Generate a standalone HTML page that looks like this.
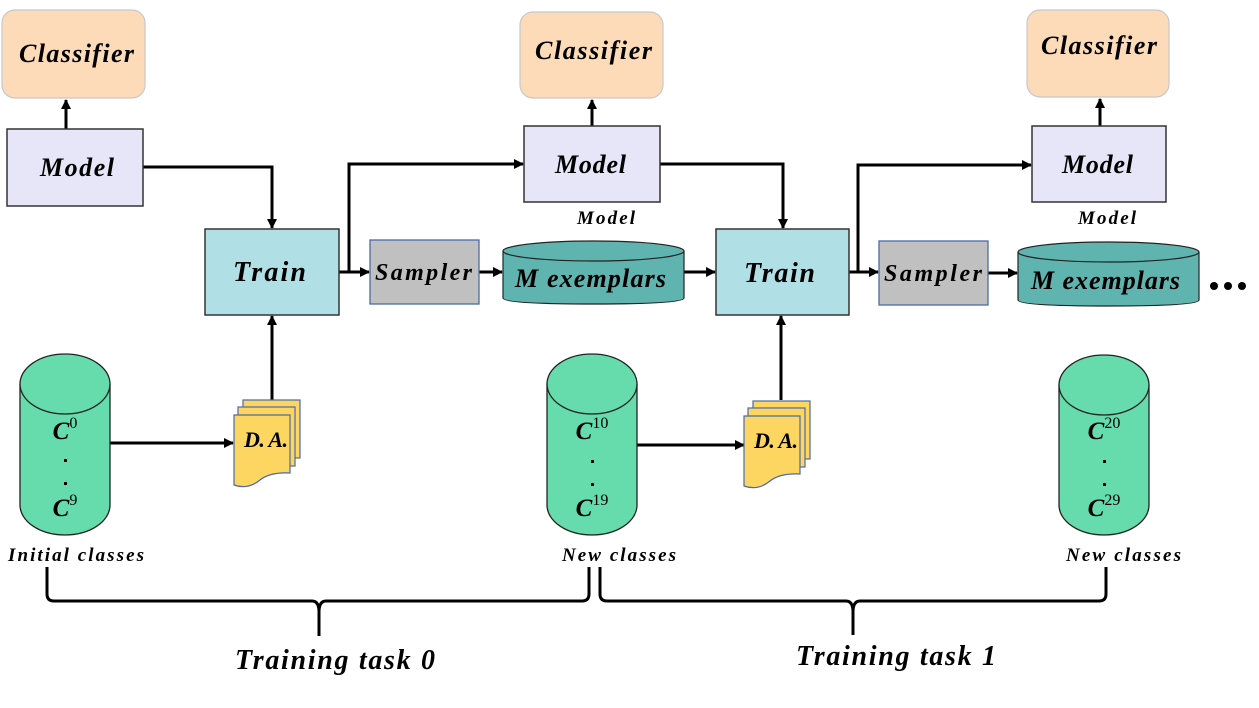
<!DOCTYPE html>
<html><head><meta charset="utf-8"><style>
html,body{margin:0;padding:0;background:#fff;}
svg{display:block;}
text{font-family:"Liberation Serif",serif;font-weight:bold;font-style:italic;fill:#000;}
</style></head><body>
<svg width="1259" height="708" viewBox="0 0 1259 708" xmlns="http://www.w3.org/2000/svg">
<defs>
<marker id="a" markerWidth="10" markerHeight="10" refX="9" refY="5" orient="auto" markerUnits="userSpaceOnUse">
<path d="M0,0 L10,5 L0,10 z" fill="#000"/></marker>
</defs>
<g stroke="#000" stroke-width="3" fill="none">
<line x1="66" y1="129" x2="66" y2="100" marker-end="url(#a)"/>
<line x1="592" y1="126" x2="592" y2="100" marker-end="url(#a)"/>
<line x1="1100" y1="126" x2="1100" y2="99" marker-end="url(#a)"/>
<polyline points="143,167 272,167 272,228" marker-end="url(#a)"/>
<polyline points="660,164 783,164 783,228" marker-end="url(#a)"/>
<polyline points="349,272 349,164 523,164" marker-end="url(#a)"/>
<polyline points="858,272 858,165 1031,165" marker-end="url(#a)"/>
<line x1="339" y1="272" x2="369" y2="272" marker-end="url(#a)"/>
<line x1="849" y1="272" x2="878" y2="272" marker-end="url(#a)"/>
<line x1="479" y1="272" x2="502" y2="272" marker-end="url(#a)"/>
<line x1="988" y1="273" x2="1017" y2="273" marker-end="url(#a)"/>
<line x1="684" y1="272" x2="715" y2="272" marker-end="url(#a)"/>
<line x1="272" y1="400" x2="272" y2="316" marker-end="url(#a)"/>
<line x1="781" y1="400" x2="781" y2="316" marker-end="url(#a)"/>
<line x1="110" y1="443" x2="233" y2="443" marker-end="url(#a)"/>
<line x1="637" y1="445" x2="744" y2="445" marker-end="url(#a)"/>
<path d="M47,567 L47,594 Q47,601 54,601 L312,601 Q319,601 319,612 L319,636 M319,612 Q319,601 326,601 L582,601 Q589,601 589,594 L589,567"/>
<path d="M600,567 L600,594 Q600,601 607,601 L846,601 Q853,601 853,612 L853,635 M853,612 Q853,601 860,601 L1099,601 Q1106,601 1106,594 L1106,567"/>
</g>
<g fill="#fddbb8" stroke="#c8c8c8" stroke-width="1.2">
<rect x="2" y="10" width="143" height="88" rx="13"/>
<rect x="520" y="12" width="143" height="86" rx="13"/>
<rect x="1027" y="10" width="142" height="87" rx="13"/>
</g>
<g font-size="26">
<text x="19" y="62" textLength="115">Classifier</text>
<text x="535" y="59" textLength="117">Classifier</text>
<text x="1041" y="54" textLength="116">Classifier</text>
</g>
<g fill="#e6e6f8" stroke="#333" stroke-width="1.5">
<rect x="7" y="129" width="136" height="77"/>
<rect x="524" y="126" width="136" height="76"/>
<rect x="1032" y="126" width="134" height="76"/>
</g>
<g font-size="26">
<text x="40" y="176" textLength="74">Model</text>
<text x="555" y="173" textLength="71">Model</text>
<text x="1062" y="173" textLength="71">Model</text>
</g>
<g font-size="19">
<text x="577" y="224" textLength="58">Model</text>
<text x="1078" y="224" textLength="58">Model</text>
</g>
<g fill="#b0e0e6" stroke="#333" stroke-width="1.5">
<rect x="205" y="229" width="134" height="86"/>
<rect x="716" y="229" width="133" height="86"/>
</g>
<g font-size="28">
<text x="233" y="281" textLength="73">Train</text>
<text x="744" y="282" textLength="71">Train</text>
</g>
<g fill="#c0c0c0" stroke="#4a6aa8" stroke-width="1.3">
<rect x="370" y="240" width="109" height="64"/>
<rect x="879" y="241" width="109" height="64"/>
</g>
<g font-size="24">
<text x="375" y="280" textLength="97">Sampler</text>
<text x="884" y="281" textLength="98">Sampler</text>
</g>
<g fill="#5fb4b0" stroke="#222" stroke-width="1.2">
<path d="M503,251 L503,298 Q503,304 593,304 Q684,304 684,298 L684,251"/>
<ellipse cx="593.5" cy="251" rx="90.5" ry="10"/>
<path d="M1018,252 L1018,300 Q1018,306 1108,306 Q1199,306 1199,300 L1199,252"/>
<ellipse cx="1108.5" cy="252" rx="90.5" ry="10"/>
</g>
<g font-size="26">
<text x="515" y="287" textLength="151">M exemplars</text>
<text x="1031" y="289" textLength="149">M exemplars</text>
</g>
<g fill="#000"><circle cx="1214" cy="286" r="4"/><circle cx="1228" cy="286" r="4"/><circle cx="1242" cy="286" r="4"/></g>
<g fill="#66dcac" stroke="#222" stroke-width="1.3">
<path d="M20,384 L20,505 A45,30 0 0 0 110,505 L110,384"/><ellipse cx="65" cy="384" rx="45" ry="30"/>
<path d="M547,384 L547,505 A45,30 0 0 0 637,505 L637,384"/><ellipse cx="592" cy="384" rx="45" ry="30"/>
<path d="M1059,385 L1059,505 A45,30 0 0 0 1149,505 L1149,385"/><ellipse cx="1104" cy="385" rx="45" ry="30"/>
</g>
<g font-size="25" text-anchor="middle">
<text x="65" y="439">C<tspan font-size="16" dy="-11" font-style="normal" font-weight="normal">0</tspan></text>
<text x="65" y="516">C<tspan font-size="16" dy="-11" font-style="normal" font-weight="normal">9</tspan></text>
<text x="592" y="439">C<tspan font-size="16" dy="-11" font-style="normal" font-weight="normal">10</tspan></text>
<text x="592" y="516">C<tspan font-size="16" dy="-11" font-style="normal" font-weight="normal">19</tspan></text>
<text x="1104" y="439">C<tspan font-size="16" dy="-11" font-style="normal" font-weight="normal">20</tspan></text>
<text x="1104" y="516">C<tspan font-size="16" dy="-11" font-style="normal" font-weight="normal">29</tspan></text>
</g>
<g fill="#000"><rect x="64" y="459" width="3" height="3"/><rect x="64" y="482" width="3" height="3"/>
<rect x="591" y="460" width="3" height="3"/><rect x="591" y="483" width="3" height="3"/>
<rect x="1103" y="460" width="3" height="3"/><rect x="1103" y="483" width="3" height="3"/></g>
<g fill="#fdd662" stroke="#4a6aa8" stroke-width="1.2">
<rect x="243" y="400" width="57" height="58"/>
<rect x="238" y="407" width="57" height="59"/>
<path d="M234,415 L290,415 L290,473 Q270,472 260,480 Q248,490 234,485 Z"/>
<rect x="753" y="401" width="57" height="58"/>
<rect x="748" y="408" width="57" height="59"/>
<path d="M744,416 L800,416 L800,474 Q780,473 770,481 Q758,491 744,486 Z"/>
</g>
<g font-size="22">
<text x="244" y="447" textLength="44">D. A.</text>
<text x="754" y="448" textLength="44">D. A.</text>
</g>
<g font-size="19">
<text x="8" y="561" textLength="136">Initial classes</text>
<text x="562" y="561" textLength="114">New classes</text>
<text x="1066" y="561" textLength="115">New classes</text>
</g>
<g font-size="28">
<text x="235" y="669" textLength="200">Training task 0</text>
<text x="796" y="665" textLength="200">Training task 1</text>
</g>
</svg>
</body></html>
